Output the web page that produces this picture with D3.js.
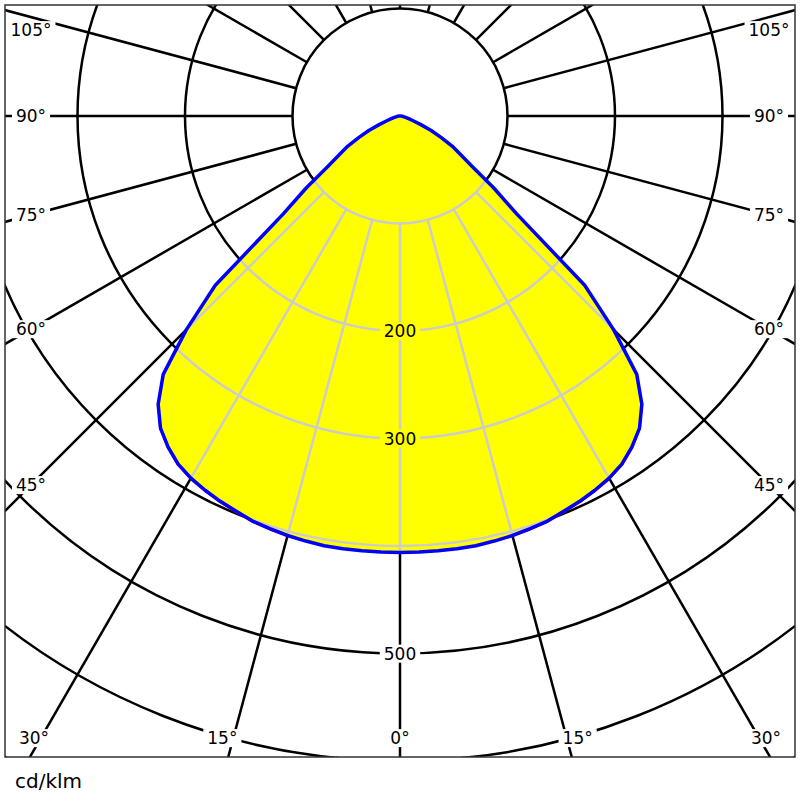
<!DOCTYPE html>
<html>
<head>
<meta charset="utf-8">
<script src="https://cdn.jsdelivr.net/npm/d3@7/dist/d3.min.js"></script>
<style>
  body { margin: 0; background: #fff; }
  svg { display: block; }
  text { font-family: "DejaVu Sans", sans-serif; }
</style>
</head>
<body>
<svg id="chart" width="800" height="800"></svg>
<script>
// ---- data ----
const gammaAngles = [0,2.5,5,7.5,10,12.5,15,17.5,20,22.5,25,27.5,30,32.5,35,37.5,40,42.5,45,47.5,50,52.5,55,57.5,60,62.5,65,67.5,70,72.5,75,77.5,80,82.5,85,87.5,90];
const blueValues  = [406,406,406,406,406,405,404,402.5,401,398,395.5,392.5,389,384,376,366,350,326,281,233,142,110,82,67,56,43,32,21,13,9,6,4,3,2,1.5,1,0.5];
const redValues   = [406,406,406,406,406,405.3,404.8,403.5,402,399,396.5,393.5,390,385,377,366.8,350.5,326.5,281,233,142,110,82,67,56,43,32,21,13,9,6,4,3,2,1.5,1,0.5];
const ringValues  = [100,200,300,400,500,600,700,800];
const ringLabels  = [200,300,500];
const radialAngles = d3.range(0, 360, 15);
const sideLabelAngles = [45,60,75,90,105];
const bottomLabelAngles = [0,15,30];
const unitLabel = "cd/klm";

// ---- layout ----
const svg = d3.select("#chart");
const cx = 400, cy = 116;
const frame = {x: 5, y: 5, w: 790, h: 752};
const r = d3.scaleLinear().domain([0, 100]).range([0, 107.5]);
const toRad = d => d * Math.PI / 180;

svg.append("rect").attr("width", 800).attr("height", 800).attr("fill", "#fff");

const defs = svg.append("defs");
defs.append("clipPath").attr("id", "frameClip")
  .append("rect").attr("x", frame.x).attr("y", frame.y).attr("width", frame.w).attr("height", frame.h);

function curvePoints(vals) {
  const pts = [];
  for (let i = gammaAngles.length - 1; i >= 0; i--) pts.push({a: Math.PI - toRad(gammaAngles[i]), v: vals[i]});
  for (let i = 1; i < gammaAngles.length; i++) pts.push({a: Math.PI + toRad(gammaAngles[i]), v: vals[i]});
  return pts;
}
const radialLine = d3.lineRadial().angle(d => d.a).radius(d => r(d.v)).curve(d3.curveLinearClosed);
const bluePath = radialLine(curvePoints(blueValues));
const redPath = radialLine(curvePoints(redValues));

defs.append("clipPath").attr("id", "curveClip")
  .append("path").attr("d", bluePath).attr("transform", `translate(${cx},${cy})`);

function drawGrid(g, color) {
  g.selectAll("circle.ring").data(ringValues).join("circle")
    .attr("class", "ring").attr("cx", cx).attr("cy", cy).attr("r", d => r(d))
    .attr("fill", "none").attr("stroke", color).attr("stroke-width", 2.5);
  g.selectAll("line.radial").data(radialAngles).join("line")
    .attr("class", "radial")
    .attr("x1", d => cx + r(100) * Math.sin(toRad(d)))
    .attr("y1", d => cy + r(100) * Math.cos(toRad(d)))
    .attr("x2", d => cx + r(1000) * Math.sin(toRad(d)))
    .attr("y2", d => cy + r(1000) * Math.cos(toRad(d)))
    .attr("stroke", color).attr("stroke-width", 2.5);
}

const gridG = svg.append("g").attr("clip-path", "url(#frameClip)");
drawGrid(gridG, "#000");

const curveG = svg.append("g").attr("transform", `translate(${cx},${cy})`);
curveG.append("path").attr("d", bluePath).attr("fill", "#ffff00").attr("stroke", "none");

const greyG = svg.append("g").attr("clip-path", "url(#curveClip)");
drawGrid(greyG, "#cccccc");

const linesG = svg.append("g").attr("transform", `translate(${cx},${cy})`);
linesG.append("path").attr("d", redPath).attr("fill", "none").attr("stroke", "#ff0000").attr("stroke-width", 1.5).attr("stroke-linejoin", "round");
linesG.append("path").attr("d", bluePath).attr("fill", "none").attr("stroke", "#0000ff").attr("stroke-width", 3.5).attr("stroke-linejoin", "round");

// ---- labels ----
const labelG = svg.append("g");
function addLabel(x, y, txt, bg) {
  const g = labelG.append("g");
  const rect = g.append("rect").attr("fill", bg);
  const t = g.append("text").attr("x", x).attr("y", y).attr("dy", "0.36em")
    .attr("text-anchor", "middle").attr("font-size", 17).attr("fill", "#000").text(txt);
  const b = t.node().getBBox();
  rect.attr("x", b.x - 4).attr("y", b.y + 1).attr("width", b.width + 8).attr("height", b.height - 2);
}

const sideOff = 369;
sideLabelAngles.forEach(a => {
  const cot = Math.cos(toRad(a)) / Math.sin(toRad(a));
  const y = Math.max(frame.y + 25, cy + sideOff * cot);
  addLabel(cx - sideOff, y, a + "°", "#fff");
  addLabel(cx + sideOff, y, a + "°", "#fff");
});
const bottomY = frame.y + frame.h - 19;
bottomLabelAngles.forEach(a => {
  const dx = (frame.y + frame.h + 22 - cy) * Math.tan(toRad(a));
  const xl = Math.max(frame.x + 29, cx - dx);
  const xr = Math.min(frame.x + frame.w - 29, cx + dx);
  addLabel(xl, bottomY, a + "°", "#fff");
  if (a !== 0) addLabel(xr, bottomY, a + "°", "#fff");
});
ringLabels.forEach(v => {
  addLabel(cx, cy + r(v), String(v), v < blueValues[0] ? "#ffff00" : "#fff");
});

svg.append("rect").attr("x", frame.x).attr("y", frame.y).attr("width", frame.w).attr("height", frame.h)
  .attr("fill", "none").attr("stroke", "#333").attr("stroke-width", 1.5);

svg.append("text").attr("x", 15).attr("y", 788).attr("font-size", 20).attr("fill", "#000").text(unitLabel);
</script>
</body>
</html>
